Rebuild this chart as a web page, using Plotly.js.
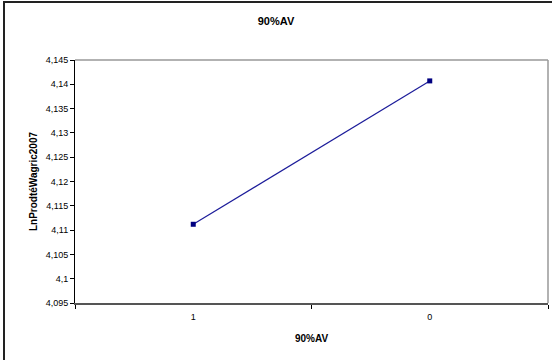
<!DOCTYPE html>
<html>
<head>
<meta charset="utf-8">
<script src="https://cdn.plot.ly/plotly-3.0.1.min.js"></script>
<style>
html,body{margin:0;padding:0;background:#fff;}
#frame{position:absolute;left:3px;top:1px;width:560px;height:370px;border-left:2px solid #222;border-top:2px solid #222;box-sizing:border-box;}
#chart{position:absolute;left:0;top:0;width:552px;height:360px;}
</style>
</head>
<body>
<div id="chart"></div>
<div id="frame"></div>
<script>
const categories = ["1", "0"];
const values = [4.1112, 4.1407];
const chartTitle = "90%AV";
const xTitle = "90%AV";
const yTitle = "LnProdtéWagric2007";

const font = "Liberation Sans, Arial, sans-serif";

const trace = {
  x: categories,
  y: values,
  type: "scatter",
  mode: "lines+markers",
  line: {color: "#1c1c9a", width: 1.2},
  marker: {color: "#000080", size: 5, symbol: "square"},
  hoverinfo: "none"
};

const layout = {
  width: 552, height: 360,
  margin: {l: 75, r: 4, t: 60, b: 57},
  paper_bgcolor: "rgba(0,0,0,0)",
  plot_bgcolor: "#fff",
  separators: ", ",
  showlegend: false,
  font: {family: font, color: "#000"},
  title: {text: "<b>" + chartTitle + "</b>", font: {family: font, size: 11, color: "#000"}, x: 0.5, xanchor: "center", y: 0.94, yanchor: "middle"},
  xaxis: {
    type: "category",
    range: [-0.5, 1.5],
    tickson: "boundaries",
    ticks: "outside", ticklen: 4, tickcolor: "#000", tickwidth: 1,
    ticklabelstandoff: 4,
    showline: true, linecolor: "#555", linewidth: 2,
    showgrid: false, zeroline: false,
    tickfont: {family: font, size: 9, color: "#000"},
    title: {text: "<b>" + xTitle + "</b>", font: {family: font, size: 10, color: "#000"}, standoff: 14}
  },
  yaxis: {
    range: [4.095, 4.145],
    dtick: 0.005, tick0: 4.095,
    ticks: "outside", ticklen: 4, tickcolor: "#000", tickwidth: 1,
    showline: true, linecolor: "#000", linewidth: 1,
    showgrid: false, zeroline: false,
    tickfont: {family: font, size: 9, color: "#000"},
    title: {text: "<b>" + yTitle + "</b>", font: {family: font, size: 10, color: "#000"}, standoff: 6}
  },
  shapes: [
    {type: "line", xref: "paper", yref: "paper", x0: 0, x1: 1, y0: 1, y1: 1, line: {color: "#999", width: 1.5}},
    {type: "line", xref: "paper", yref: "paper", x0: 1, x1: 1, y0: 0, y1: 1, line: {color: "#999", width: 1.5}}
  ]
};

Plotly.newPlot("chart", [trace], layout, {staticPlot: true, displayModeBar: false});
</script>
</body>
</html>
